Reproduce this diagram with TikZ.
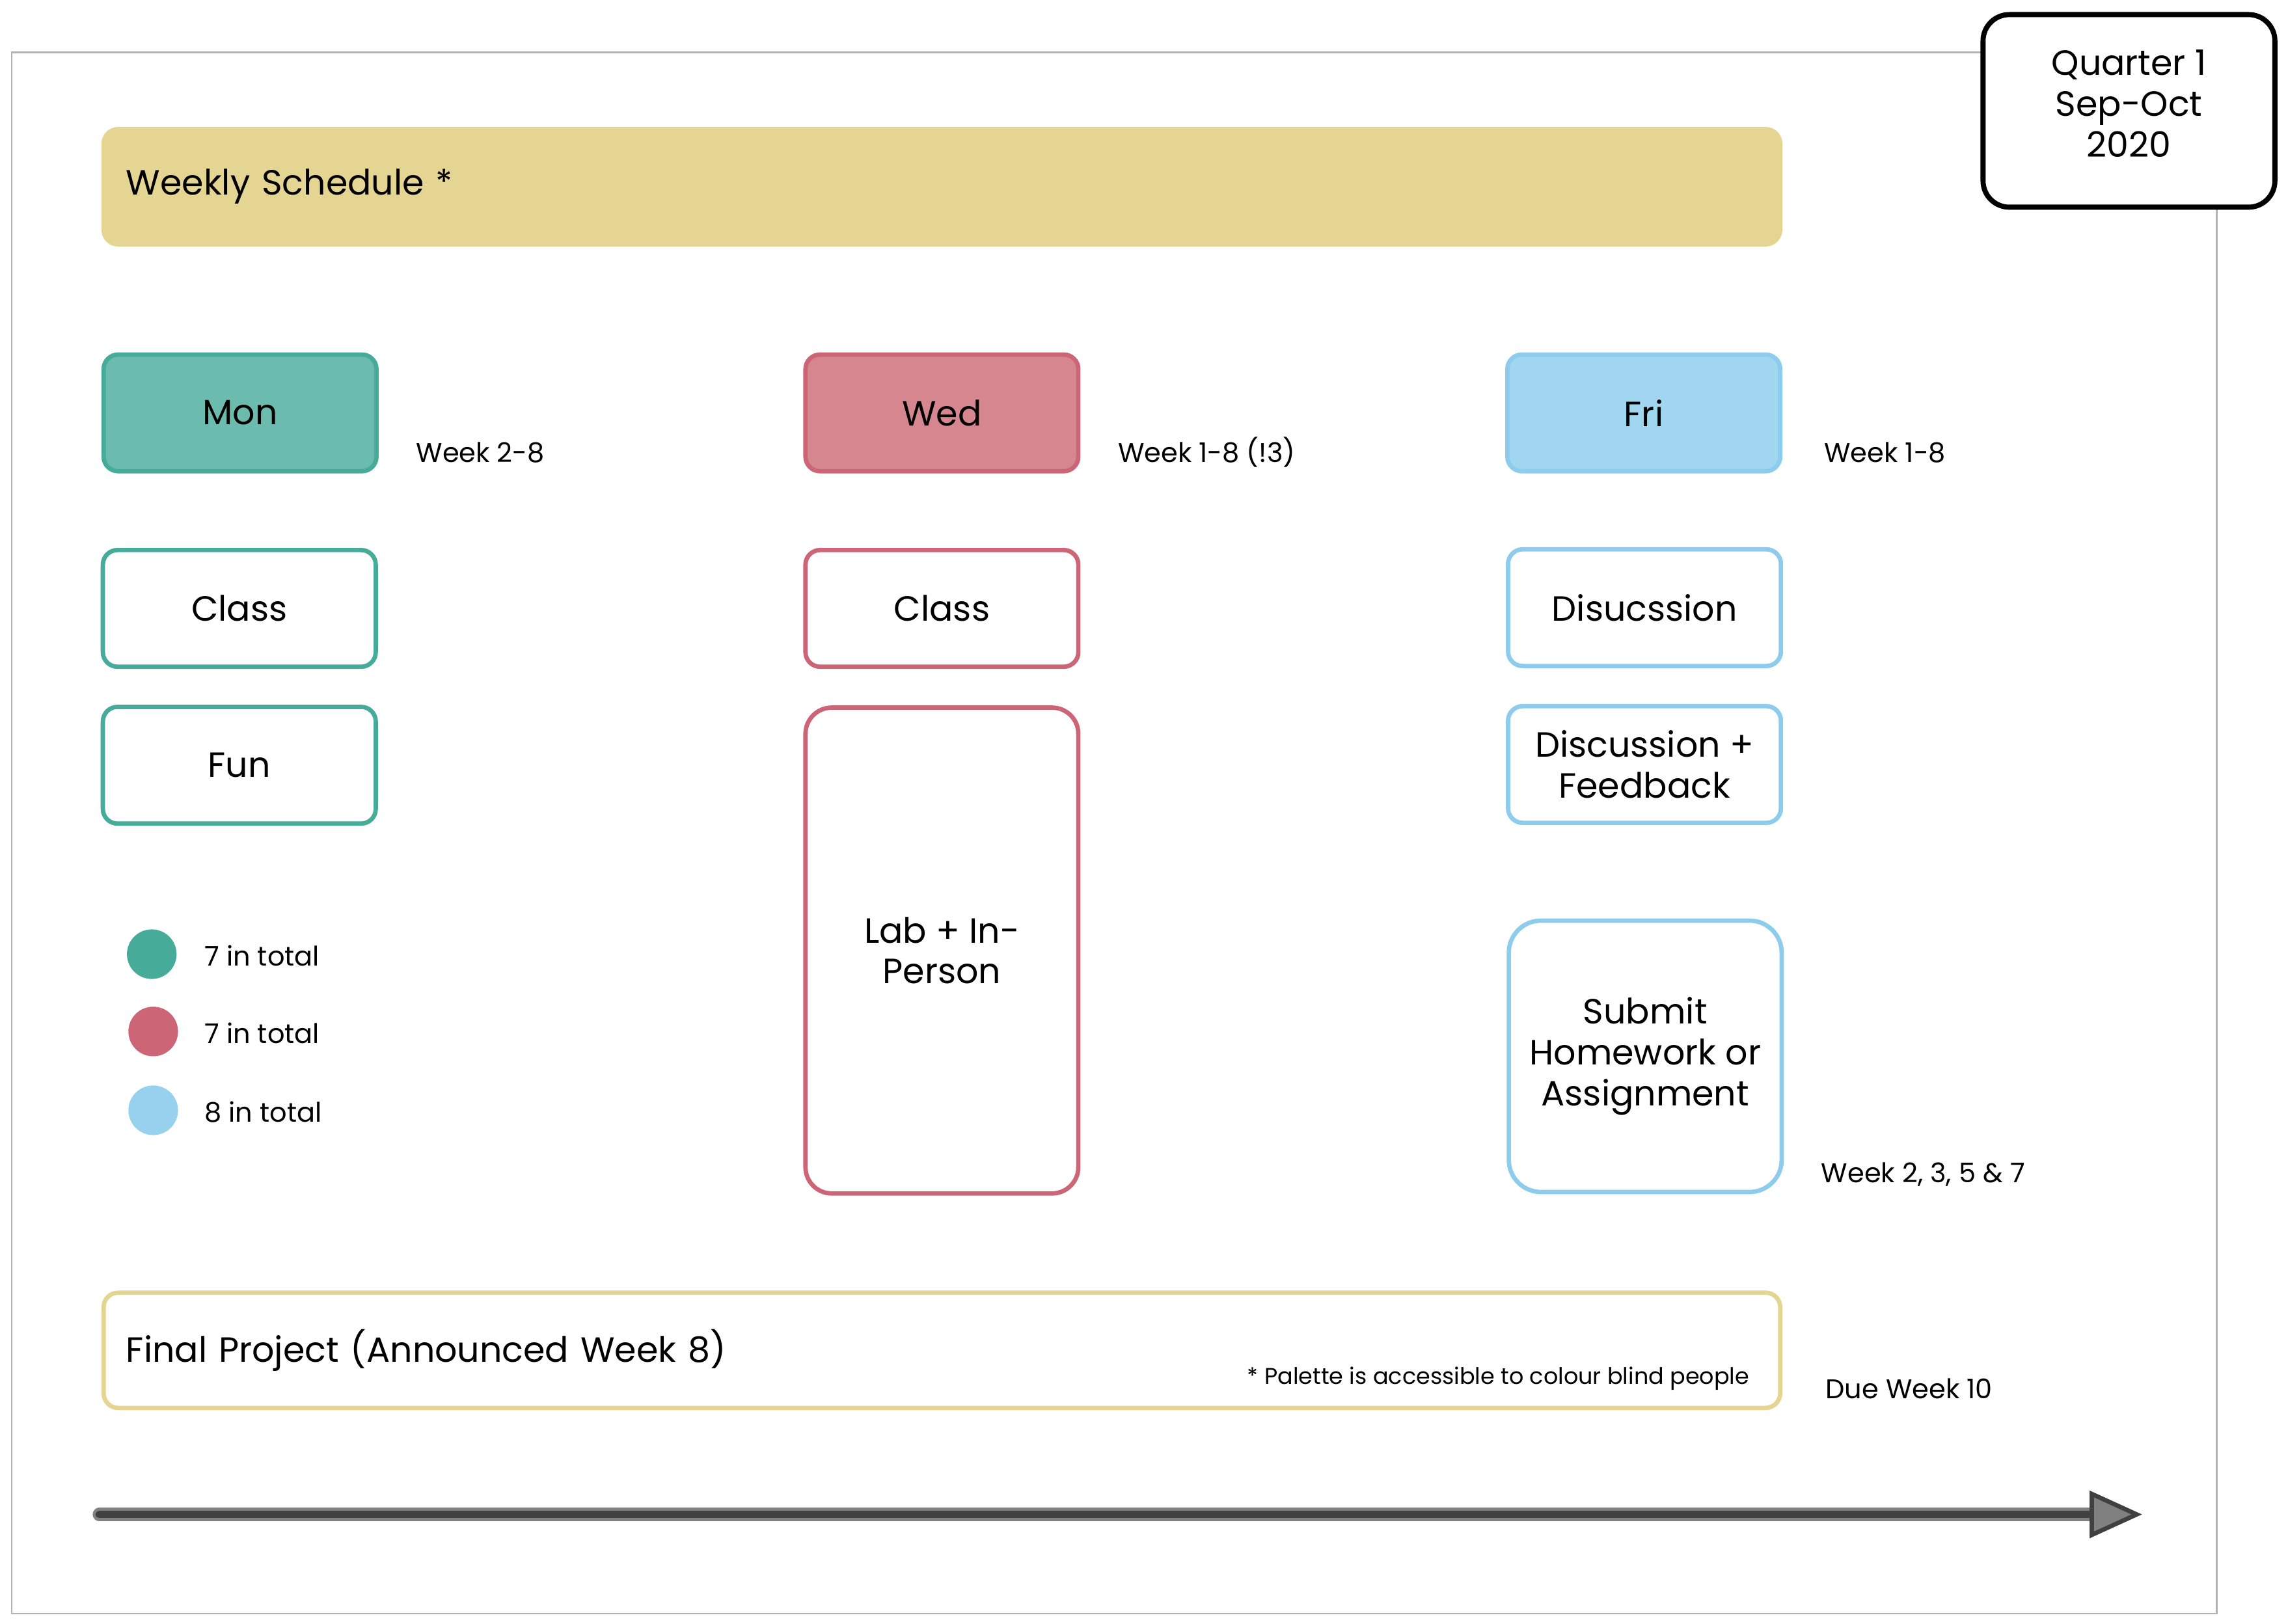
\documentclass[tikz,border=0pt]{standalone}
\usepackage{fontspec}
\setmainfont{Poppins}
\usetikzlibrary{arrows.meta}

\definecolor{teallight}{HTML}{6BBBAE}
\definecolor{tealdark}{HTML}{47AB99}
\definecolor{rosylight}{HTML}{D5868F}
\definecolor{rosydark}{HTML}{CC6676}
\definecolor{skylight}{HTML}{A1D6F1}
\definecolor{skydark}{HTML}{8DCCEC}
\definecolor{sand}{HTML}{E5D592}

\tikzset{
    bigtext/.style = {font=\fontsize{24}{28}\selectfont},
    smalltext/.style = {font=\fontsize{18.5}{22}\selectfont, anchor=west, inner sep=0pt},
    daybox/.style = {draw=#1, line width=3pt, rounded corners=10pt,
        minimum width=187pt, minimum height=80pt, align=center, bigtext},
    dot/.style = {circle, fill=#1, minimum size=34pt, inner sep=0pt},
}

\begin{document}
\begin{tikzpicture}[x=1pt, y=-1pt]
    \useasboundingbox (0,0) rectangle (1568,1113);
    % outer frame
    \draw[black!30, line width=1.2pt] (8,36) rectangle (1519,1106);
    \node (quarter) at (1459,76) [draw, fill=white, line width=3.5pt, rounded corners=18pt,
        minimum width=200pt, minimum height=132pt, align=center, bigtext,
        text depth=10pt] {Quarter 1\\Sep-Oct\\2020};
    % schedule banner
    \node (banner) at (645.5,128) [draw=sand, fill=sand, line width=3pt, rounded corners=10pt,
        minimum width=1149pt, minimum height=79pt, text width=1118pt, align=left, bigtext]
        {Weekly Schedule *};
    % days
    \node (mon) at (164.5,283) [daybox=tealdark, fill=teallight] {Mon};
    \node (wed) at (645.5,283) [daybox=rosydark, fill=rosylight] {Wed};
    \node (fri) at (1126.5,283) [daybox=skydark, fill=skylight] {Fri};
    \node (monweeks) at (285,310) [smalltext] {Week 2-8};
    \node (wedweeks) at (766,310) [smalltext] {Week 1-8 (!3)};
    \node (friweeks) at (1250,310) [smalltext] {Week 1-8};
    % monday
    \node (monclass) at (164,417) [daybox=tealdark] {Class};
    \node (monfun) at (164,524.5) [daybox=tealdark] {Fun};
    % wednesday
    \node (wedclass) at (645.5,417) [daybox=rosydark] {Class};
    \node (wedlab) at (645.5,651.5) [daybox=rosydark, minimum height=333pt, rounded corners=18pt]
        {Lab + In-\\Person};
    % friday
    \node (fridisc) at (1127,416.5) [daybox=skydark] {Disucssion};
    \node (frifeed) at (1127,524) [daybox=skydark] {Discussion +\\Feedback};
    \node (frisubmit) at (1127.5,724) [daybox=skydark, minimum height=186pt, rounded corners=22pt]
        {Submit\\Homework or\\Assignment};
    \node (subweeks) at (1248,805) [smalltext] {Week 2, 3, 5 \& 7};
    % legend
    \node (dotmon) at (104,654) [dot=tealdark] {};
    \node (dotwed) at (105,707) [dot=rosydark] {};
    \node (dotfri) at (105,761) [dot=skydark!90!white] {};
    \node (summon) at (140,655) [smalltext] {7 in total};
    \node (sumwed) at (140,708) [smalltext] {7 in total};
    \node (sumfri) at (140,762) [smalltext] {8 in total};
    % final project
    \node (final) at (645.5,925.5) [draw=sand, fill=white, line width=3pt, rounded corners=10pt,
        minimum width=1149pt, minimum height=79pt, text width=1118pt, align=left, bigtext]
        {Final Project (Announced Week 8)};
    \node (palette) at (1199,945) [anchor=east, inner sep=0pt, font=\fontsize{15.6}{18}\selectfont]
        {* Palette is accessible to colour blind people};
    \node (due) at (1251,952) [smalltext] {Due Week 10};
    % time line
    \coordinate (tstart) at (68,1038);
    \coordinate (tend) at (1468,1038);
    \draw[black!50, line width=9pt, line cap=round] (tstart) -- (1436,1038);
    \draw[black!75, line width=5pt, line cap=round,
        -{Triangle[length=36pt, width=32pt, fill=black!50, line width=3pt]}]
        (tstart) -- (tend);
\end{tikzpicture}
\end{document}
